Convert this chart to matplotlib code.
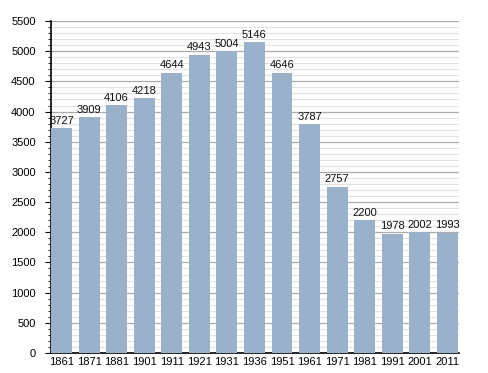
import matplotlib.pyplot as plt
from matplotlib.ticker import MultipleLocator

years = ['1861', '1871', '1881', '1901', '1911', '1921', '1931', '1936',
         '1951', '1961', '1971', '1981', '1991', '2001', '2011']
population = [3727, 3909, 4106, 4218, 4644, 4943, 5004, 5146,
              4646, 3787, 2757, 2200, 1978, 2002, 1993]

plt.rcParams['font.family'] = ['Liberation Sans', 'DejaVu Sans']

fig = plt.figure(figsize=(4.88, 3.73), dpi=100)
ax = fig.add_axes([51 / 488, 20 / 373, 408 / 488, 332 / 373])

x = list(range(len(years)))
bars = ax.bar(x, population, width=0.76, color='#9ab1cb', zorder=3)

# value labels above each bar
for bar, val in zip(bars, population):
    ax.text(bar.get_x() + bar.get_width() / 2, val + 40, str(val),
            ha='center', va='bottom', fontsize=8, color='#111111', zorder=4)

ax.set_xlim(-0.38, 14.42)
ax.set_ylim(0, 5500)
ax.set_xticks(x)
ax.set_xticklabels(years)
ax.yaxis.set_major_locator(MultipleLocator(500))
ax.yaxis.set_minor_locator(MultipleLocator(100))

ax.grid(axis='y', which='major', color='#aaaaaa', linewidth=0.9, zorder=0)
ax.grid(axis='y', which='minor', color='#e2e2e2', linewidth=0.8, zorder=0)

for side in ['top', 'right']:
    ax.spines[side].set_visible(False)
ax.spines['left'].set_linewidth(1.2)
ax.spines['bottom'].set_linewidth(1.2)

ax.tick_params(axis='y', which='major', length=4, width=0.8, labelsize=8, pad=7)
ax.tick_params(axis='y', which='minor', length=2, width=0.6)
ax.tick_params(axis='x', length=0, labelsize=8, pad=3)

plt.savefig('out.png', dpi=100)
